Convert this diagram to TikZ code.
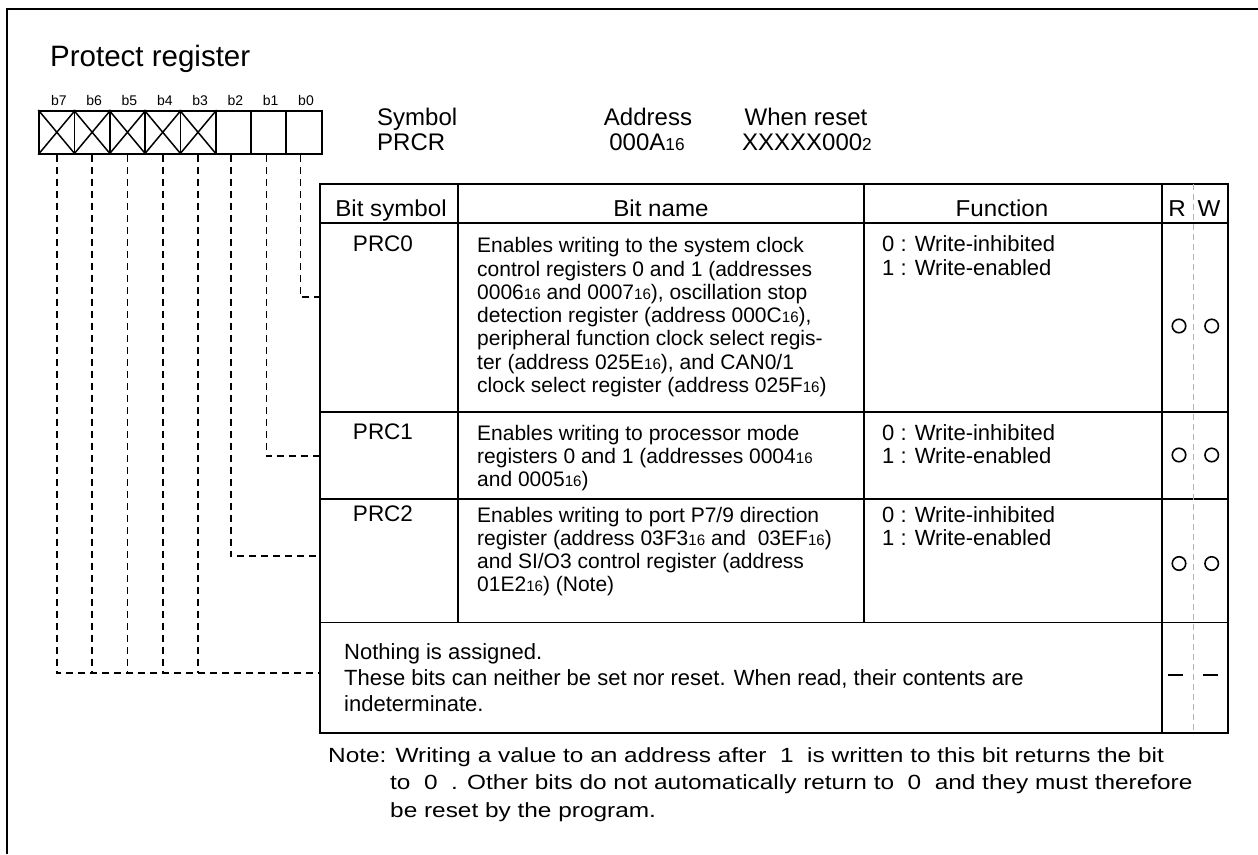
\documentclass[tikz,border=0pt]{standalone}
\usepackage{fontspec}
\usepackage{graphicx}
\setmainfont{Liberation Sans}
\newfontfamily\notefont[FakeStretch=1.19]{Liberation Sans}
\newfontfamily\hdrfont[FakeStretch=1.05]{Liberation Sans}
\newcommand{\sx}[1]{\scalebox{0.72}{#1}}
\newcommand{\cellt}[2]{\vtop{\baselineskip=#1\lineskiplimit=-100pt\lineskip=0pt\relax #2}}
\tikzset{
  frame/.style={line width=2.4pt},
  tab/.style={line width=2.2pt},
  grid/.style={line width=1.6pt},
  lead/.style={line width=1.9pt, dash pattern=on 7pt off 5pt},
  rwsep/.style={gray!60, line width=1pt, dash pattern=on 6pt off 4pt},
  txt/.style={inner sep=0pt, anchor=base west},
  ctxt/.style={inner sep=0pt, anchor=base},
  tabfont/.style={font=\fontsize{21}{23.3}\selectfont},
  hdr/.style={font=\hdrfont\fontsize{23}{24}\selectfont},
  symfont/.style={font=\fontsize{22.5}{24}\selectfont},
  funfont/.style={font=\fontsize{22}{23.3}\selectfont},
  bitbox/.style={draw, line width=1.8pt, minimum width=35.3pt, minimum height=42.7pt, inner sep=0pt, anchor=north west},
  circ/.style={draw, circle, line width=1.6pt, minimum size=13.5pt, inner sep=0pt},
  nodash/.style={line width=1.8pt}
}
\begin{document}
\begin{tikzpicture}[x=1pt, y=-1pt]
\useasboundingbox (0,0) rectangle (1258,854);
% frame
\draw[frame] (7,854) -- (7,9) -- (1258,9);
% title
\node[txt, font=\fontsize{29.5}{31}\selectfont] (title) at (50,66) {Protect register};
% register boxes
\foreach \i/\n in {0/7,1/6,2/5,3/4,4/3,5/2,6/1,7/0}{
  \node[bitbox] (b\n) at ({38.3+\i*35.3},110) {};
  \node[ctxt, font=\fontsize{14}{15}\selectfont] (l\n) at ({38.3+\i*35.3+17.6+3},105) {b\n};
}
\foreach \n in {7,6,5,4,3}{
  \draw[line width=1.5pt] (b\n.north west) -- (b\n.south east) (b\n.north east) -- (b\n.south west);
}
% symbol / address / reset
\begin{scope}[font=\fontsize{24}{25}\selectfont]
\node[txt] (sym) at (377,125) {Symbol};
\node[txt] (symv) at (377,150) {PRCR};
\node[ctxt] (adr) at (648,125) {Address};
\node[ctxt] (adrv) at (647,150) {000A\sx{16}};
\node[ctxt] (rst) at (806,125) {When reset};
\node[ctxt] (rstv) at (807,150) {XXXXX000\sx{2}};
\end{scope}
% table frame
\coordinate (tl) at (320,184);
\coordinate (br) at (1228,733);
\draw[tab] (tl) rectangle (br);
\draw[grid] (320,223) -- (1228,223);
\draw[grid] (320,412) -- (1228,412);
\draw[grid] (320,499) -- (1228,499);
\draw[grid] (320,622.5) -- (1228,622.5);
\draw[grid] (458,184) -- (458,622.5);
\draw[grid] (864,184) -- (864,622.5);
\draw[grid] (1162,184) -- (1162,733);
\draw[rwsep] (1193.3,184) -- (1193.3,733);
% header
\begin{scope}[hdr]
\node[ctxt] (h1) at (391,216) {Bit symbol};
\node[ctxt] (h2) at (661,216) {Bit name};
\node[ctxt] (h3) at (1002,216) {Function};
\node[ctxt] (hr) at (1177,216) {R};
\node[ctxt] (hw) at (1209,216) {W};
\end{scope}
% bit symbols
\begin{scope}[symfont]
\node[ctxt] (s0) at (383,251) {PRC0};
\node[ctxt] (s1) at (383,439) {PRC1};
\node[ctxt] (s2) at (383,521) {PRC2};
\end{scope}
% bit names
\begin{scope}[tabfont]
\node[txt] (n0) at (477,252.7) {\cellt{23.3pt}{%
  \hbox{Enables writing to the system clock}
  \hbox{control registers 0 and 1 (addresses}
  \hbox{0006\sx{16} and 0007\sx{16}), oscillation stop}
  \hbox{detection register (address 000C\sx{16}),}
  \hbox{peripheral function clock select regis-}
  \hbox{ter (address 025E\sx{16}), and CAN0/1}
  \hbox{clock select register (address 025F\sx{16})}}};
\node[txt] (n1) at (477,440) {\cellt{23.3pt}{%
  \hbox{Enables writing to processor mode}
  \hbox{registers 0 and 1 (addresses 0004\sx{16}}
  \hbox{and 0005\sx{16})}}};
\node[txt] (n2) at (477,522) {\cellt{23.3pt}{%
  \hbox{Enables writing to port P7/9 direction}
  \hbox{register (address 03F3\sx{16} and \ 03EF\sx{16})}
  \hbox{and SI/O3 control register (address}
  \hbox{01E2\sx{16}) (Note)}}};
\end{scope}
% functions
\begin{scope}[funfont]
\node[txt] (f0) at (882,251.7) {\cellt{23.3pt}{\hbox{0 : Write-inhibited}\hbox{1 : Write-enabled}}};
\node[txt] (f1) at (882,440) {\cellt{23.3pt}{\hbox{0 : Write-inhibited}\hbox{1 : Write-enabled}}};
\node[txt] (f2) at (882,522) {\cellt{23.3pt}{\hbox{0 : Write-inhibited}\hbox{1 : Write-enabled}}};
\end{scope}
% last row
\node[txt, font=\fontsize{22}{25.8}\selectfont] (n3) at (344,659.5) {\cellt{25.8pt}{%
  \hbox{Nothing is assigned.}
  \hbox{These bits can neither be set nor reset. When read, their contents are}
  \hbox{indeterminate.}}};
% R/W marks
\node[circ] (r0) at (1179,326) {};
\node[circ] (w0) at (1211.7,326) {};
\node[circ] (r1) at (1179,455) {};
\node[circ] (w1) at (1211.7,455) {};
\node[circ] (r2) at (1179,563.5) {};
\node[circ] (w2) at (1211.7,563.5) {};
\draw[nodash] (1168,675) -- (1183,675);
\draw[nodash] (1203,675) -- (1218,675);
% leads
\coordinate (t0) at (320,297);
\coordinate (t1) at (320,456);
\coordinate (t2) at (320,556);
\coordinate (t7) at (320,673);
\draw[lead] ([xshift=-3.5pt]b0.south) |- (t0);
\draw[lead] ([xshift=-2.2pt]b1.south) |- (t1);
\draw[lead] ([xshift=-2.5pt]b2.south) |- (t2);
\draw[lead] (b7.south) |- (t7);
\foreach \n in {6,5,4,3}{
  \draw[lead] (b\n.south) -- (b\n.south |- t7);
}
% note
\node[txt, font=\notefont\fontsize{20.5}{27.5}\selectfont] (note) at (328,762) {\cellt{27.5pt}{%
  \hbox{Note: Writing a value to an address after \ 1 \ is written to this bit returns the bit}
  \hbox{\hspace{62pt}to \ 0 \ . Other bits do not automatically return to \ 0 \ and they must therefore}
  \hbox{\hspace{62pt}be reset by the program.}}};
\end{tikzpicture}
\end{document}
